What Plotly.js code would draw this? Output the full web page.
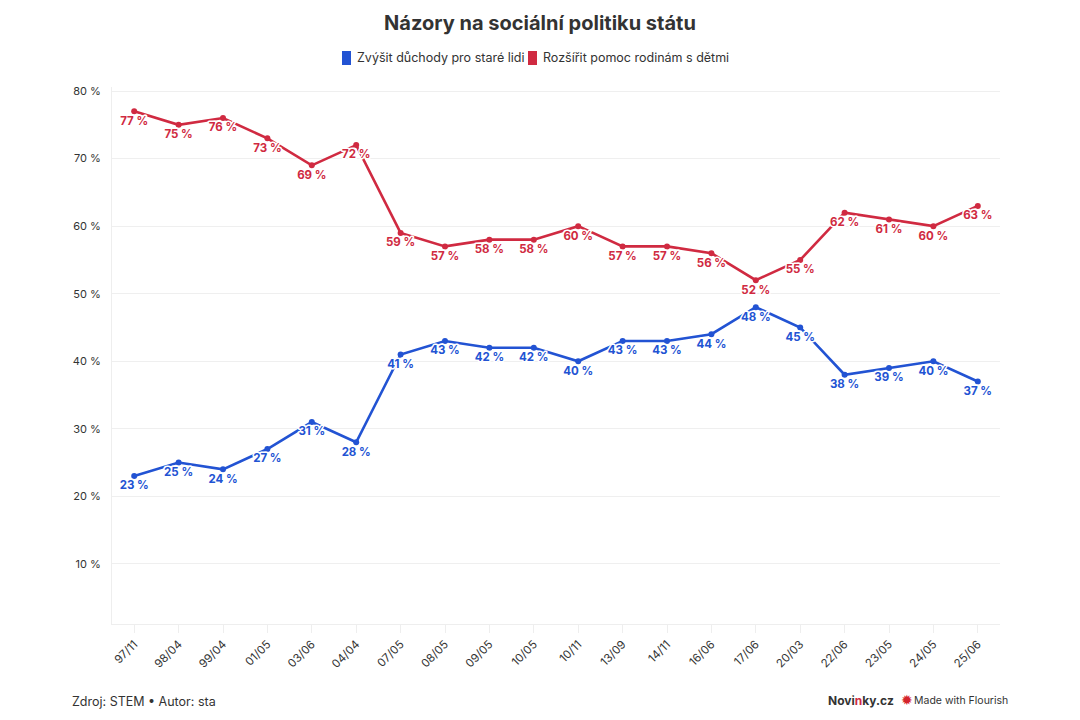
<!DOCTYPE html>
<html>
<head>
<meta charset="utf-8">
<script src="https://cdn.plot.ly/plotly-3.0.1.min.js"></script>
<style>
html,body{margin:0;padding:0;background:#fff;}
#chart{width:1080px;height:720px;}
.js-plotly-plot .scatterlayer .textpoint text{paint-order:stroke;stroke:#fff;stroke-width:3px;stroke-linejoin:round;}
</style>
</head>
<body>
<div id="chart"></div>
<script>
var categories = ["97/11","98/04","99/04","01/05","03/06","04/04","07/05","08/05","09/05","10/05","10/11","13/09","14/11","16/06","17/06","20/03","22/06","23/05","24/05","25/06"];
var seriesNames = ["Zvýšit důchody pro staré lidi", "Rozšířit pomoc rodinám s dětmi"];
var pensions = [23,25,24,27,31,28,41,43,42,42,40,43,43,44,48,45,38,39,40,37];
var families = [77,75,76,73,69,72,59,57,58,58,60,57,57,56,52,55,62,61,60,63];
var yTicks = [10,20,30,40,50,60,70,80];

var BLUE = "#2253d3";
var RED = "#d02a41";
var FONT = "Inter, 'Noto Sans', sans-serif";

var M = {l: 112, r: 80, t: 87, b: 96};
var PW = 1080 - M.l - M.r, PH = 720 - M.t - M.b;
function px(x){ return (x - M.l) / PW; }
function py(y){ return (720 - M.b - y) / PH; }

function lineTrace(vals, color, name) {
  return {
    x: categories, y: vals, type: "scatter", mode: "lines+markers+text",
    name: name, showlegend: false,
    line: {color: color, width: 2.6},
    marker: {color: color, size: 6},
    text: vals.map(function(v){ return v + " %"; }),
    textposition: "bottom center",
    textfont: {family: FONT, size: 11.5, color: color, weight: 700},
    cliponaxis: false,
    hoverinfo: "x+y"
  };
}

var data = [
  lineTrace(pensions, BLUE, seriesNames[0]),
  lineTrace(families, RED, seriesNames[1])
];

function swatch(x0, color) {
  return {type: "rect", xref: "paper", yref: "paper", x0: px(x0), x1: px(x0 + 9), y0: py(65), y1: py(51),
          fillcolor: color, line: {width: 0}, layer: "above"};
}

var layout = {
  width: 1080, height: 720,
  margin: M,
  paper_bgcolor: "#fff", plot_bgcolor: "#fff",
  font: {family: FONT, color: "#333", size: 11},
  title: {text: "<b>Názory na sociální politiku státu</b>", x: 0.5, xanchor: "center", y: 0.968, yanchor: "middle",
          font: {family: FONT, size: 20, color: "#333"}},
  showlegend: false,
  xaxis: {
    type: "category", range: [-0.5, categories.length - 0.5], fixedrange: true,
    tickangle: -45, showgrid: false, showline: true, linecolor: "#eeeeee", linewidth: 1,
    ticks: "outside", ticklen: 8, tickcolor: "#eeeeee", tickfont: {family: FONT, size: 11.5, color: "#333"},
    zeroline: false
  },
  yaxis: {
    range: [1.1, 80.6], fixedrange: true, tickvals: yTicks, ticktext: yTicks.map(function(v){return v + " %";}),
    showgrid: true, gridcolor: "#efefef", gridwidth: 1, showline: true, linecolor: "#eeeeee",
    ticks: "", ticklen: 0, tickfont: {family: FONT, size: 11, color: "#333"}, zeroline: false, ticklabelstandoff: 8
  },
  shapes: [swatch(342, BLUE), swatch(528, RED)],
  annotations: [
    {text: seriesNames[0], xref: "paper", yref: "paper", x: px(355), xanchor: "left",
     y: py(58), yanchor: "middle", showarrow: false, font: {family: FONT, size: 12.5, color: "#333"}},
    {text: seriesNames[1], xref: "paper", yref: "paper", x: px(541), xanchor: "left",
     y: py(58), yanchor: "middle", showarrow: false, font: {family: FONT, size: 12.5, color: "#333"}},
    {text: "Zdroj: STEM • Autor: sta", xref: "paper", yref: "paper", x: px(70), xanchor: "left",
     y: py(701), yanchor: "middle", showarrow: false, font: {family: FONT, size: 12.5, color: "#333"}},
    {text: "<b>Novi<span style='color:#d02a41'>n</span>ky.cz</b>", xref: "paper", yref: "paper", x: px(896), xanchor: "right",
     y: py(700), yanchor: "middle", showarrow: false, font: {family: FONT, size: 12, color: "#333"}},
    {text: "✹", xref: "paper", yref: "paper", x: px(907), xanchor: "center",
     y: py(700), yanchor: "middle", showarrow: false, font: {family: "DejaVu Sans", size: 14, color: "#d4242c"}},
    {text: "Made with Flourish", xref: "paper", yref: "paper", x: px(1010), xanchor: "right",
     y: py(700), yanchor: "middle", showarrow: false, font: {family: FONT, size: 10.5, color: "#333"}}
  ]
};

Plotly.newPlot("chart", data, layout, {displayModeBar: false});
</script>
</body>
</html>
